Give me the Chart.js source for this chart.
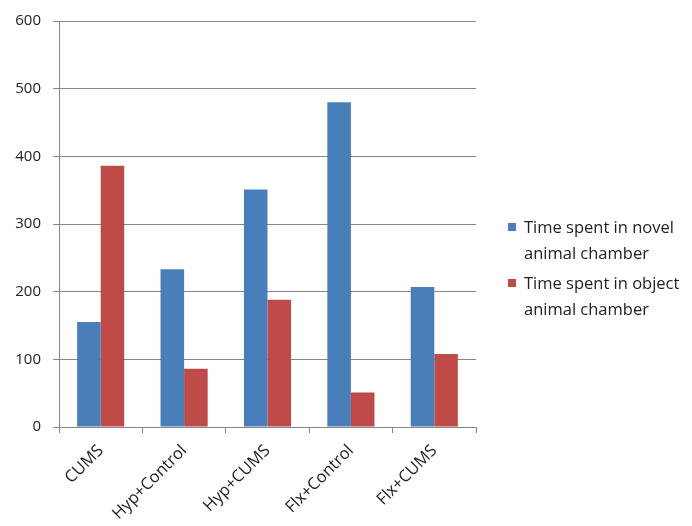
<!DOCTYPE html>
<html>
<head>
<meta charset="utf-8">
<script src="https://cdn.jsdelivr.net/npm/chart.js@4/dist/chart.umd.min.js"></script>
<style>
  html, body { margin: 0; padding: 0; background: #fff; }
  #wrap { position: relative; width: 692px; height: 526px; }
  #legend { position: absolute; left: 508px; top: 214px; font-family: "Open Sans", sans-serif; font-size: 16.5px; color: #222; line-height: 26px; }
  .item { position: relative; padding-left: 16px; margin-bottom: 4px; white-space: nowrap; }
  .sw { position: absolute; left: 0; top: 9px; width: 8px; height: 8px; }
</style>
</head>
<body>
<div id="wrap">
  <canvas id="c" width="692" height="526"></canvas>
  <div id="legend"></div>
</div>
<script>
const categories = ["CUMS", "Hyp+Control", "Hyp+CUMS", "Flx+Control", "Flx+CUMS"];
const novelChamber = [155, 233, 351, 480, 207];
const objectChamber = [386, 86, 188, 51, 108];
const seriesNames = [["Time spent in novel", "animal chamber"], ["Time spent in object", "animal chamber"]];
const yTicks = [0, 100, 200, 300, 400, 500, 600];
const colors = ["#4a7ebb", "#be4b48"];

const yFont = { family: "'Open Sans', sans-serif", size: 15 };
const xFont = { family: "'Open Sans', sans-serif", size: 16.5 };

const chart = new Chart(document.getElementById("c"), {
  type: "bar",
  data: {
    labels: categories,
    datasets: [
      { label: seriesNames[0].join(" "), data: novelChamber, backgroundColor: colors[0] },
      { label: seriesNames[1].join(" "), data: objectChamber, backgroundColor: colors[1] }
    ]
  },
  options: {
    responsive: false,
    animation: false,
    devicePixelRatio: 1,
    layout: { padding: { top: 12, right: 216, left: 0, bottom: 0 } },
    categoryPercentage: 0.565,
    barPercentage: 1.0,
    plugins: { legend: { display: false }, tooltip: { enabled: false } },
    scales: {
      x: {
        grid: { offset: true, drawOnChartArea: false, color: "#868686", tickLength: 6 },
        border: { display: true, color: "#868686" },
        ticks: { color: "#222", font: xFont, maxRotation: 45, minRotation: 45, padding: 8 },
        afterFit: (s) => { s.height = 99; }
      },
      y: {
        min: 0, max: 600,
        afterBuildTicks: (s) => { s.ticks = yTicks.map(v => ({ value: v })); },
        grid: { color: "#868686", tickLength: 6 },
        border: { display: true, color: "#868686" },
        ticks: { color: "#222", font: yFont, padding: 12 },
        afterFit: (s) => { s.width = 59; }
      }
    }
  }
});

// Legend built from the dataset names and colours
const legend = document.getElementById("legend");
seriesNames.forEach((lines, i) => {
  const d = document.createElement("div");
  d.className = "item";
  const sw = document.createElement("span");
  sw.className = "sw";
  sw.style.background = colors[i];
  d.appendChild(sw);
  lines.forEach((t, j) => {
    if (j) d.appendChild(document.createElement("br"));
    d.appendChild(document.createTextNode(t));
  });
  legend.appendChild(d);
});
</script>
</body>
</html>
